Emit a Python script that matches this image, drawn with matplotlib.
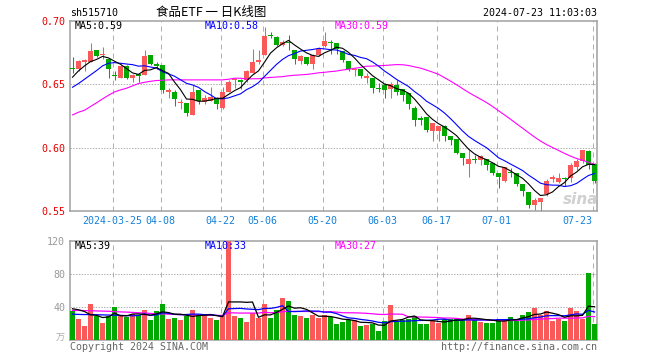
import matplotlib
matplotlib.use('Agg')
import matplotlib.pyplot as plt
import numpy as np
from matplotlib.transforms import blended_transform_factory

# ---------------- data ----------------
opens = [0.663, 0.662, 0.667, 0.667, 0.677, 0.673, 0.670, 0.657, 0.655, 0.664,
         0.655, 0.658, 0.657, 0.673, 0.666, 0.665, 0.644, 0.644, 0.635, 0.635,
         0.626, 0.645, 0.636, 0.637, 0.639, 0.631, 0.644, 0.653, 0.653, 0.653,
         0.659, 0.667, 0.673, 0.689, 0.687, 0.681, 0.683, 0.677, 0.668, 0.671,
         0.666, 0.673, 0.680, 0.683, 0.682, 0.676, 0.668, 0.661, 0.662, 0.655,
         0.655, 0.647, 0.649, 0.646, 0.649, 0.646, 0.643, 0.631, 0.623, 0.624,
         0.613, 0.613, 0.617, 0.609, 0.607, 0.596, 0.587, 0.591, 0.590, 0.591,
         0.588, 0.580, 0.574, 0.581, 0.580, 0.571, 0.565, 0.555, 0.557, 0.563,
         0.575, 0.573, 0.576, 0.576, 0.585, 0.589, 0.597, 0.587]
highs = [0.671, 0.669, 0.670, 0.682, 0.677, 0.679, 0.670, 0.660, 0.665, 0.665,
         0.658, 0.659, 0.677, 0.673, 0.667, 0.665, 0.647, 0.645, 0.638, 0.635,
         0.649, 0.645, 0.641, 0.648, 0.640, 0.648, 0.653, 0.655, 0.654, 0.661,
         0.678, 0.677, 0.695, 0.691, 0.688, 0.685, 0.689, 0.677, 0.673, 0.671,
         0.674, 0.679, 0.691, 0.685, 0.682, 0.676, 0.668, 0.663, 0.662, 0.659,
         0.655, 0.651, 0.651, 0.652, 0.653, 0.646, 0.643, 0.633, 0.625, 0.624,
         0.619, 0.617, 0.618, 0.609, 0.607, 0.596, 0.598, 0.594, 0.594, 0.591,
         0.588, 0.580, 0.585, 0.584, 0.580, 0.571, 0.565, 0.560, 0.560, 0.575,
         0.578, 0.580, 0.577, 0.588, 0.591, 0.598, 0.598, 0.588]
lows = [0.659, 0.660, 0.660, 0.667, 0.671, 0.670, 0.655, 0.653, 0.655, 0.654,
        0.652, 0.652, 0.657, 0.665, 0.662, 0.643, 0.639, 0.633, 0.630, 0.625,
        0.626, 0.634, 0.634, 0.637, 0.630, 0.630, 0.644, 0.647, 0.646, 0.652,
        0.659, 0.666, 0.673, 0.686, 0.680, 0.680, 0.677, 0.666, 0.666, 0.665,
        0.662, 0.672, 0.679, 0.674, 0.674, 0.667, 0.660, 0.656, 0.655, 0.651,
        0.643, 0.644, 0.639, 0.639, 0.641, 0.637, 0.630, 0.617, 0.618, 0.612,
        0.605, 0.605, 0.605, 0.602, 0.595, 0.586, 0.577, 0.588, 0.586, 0.582,
        0.578, 0.568, 0.573, 0.577, 0.570, 0.562, 0.552, 0.551, 0.550, 0.562,
        0.573, 0.572, 0.570, 0.573, 0.582, 0.588, 0.583, 0.572]
closes = [0.662, 0.668, 0.669, 0.676, 0.672, 0.674, 0.662, 0.656, 0.664, 0.655,
          0.657, 0.656, 0.672, 0.666, 0.664, 0.645, 0.645, 0.638, 0.636, 0.627,
          0.644, 0.637, 0.639, 0.640, 0.634, 0.644, 0.652, 0.654, 0.652, 0.660,
          0.667, 0.669, 0.688, 0.688, 0.681, 0.683, 0.682, 0.670, 0.672, 0.666,
          0.673, 0.678, 0.684, 0.682, 0.678, 0.669, 0.662, 0.662, 0.656, 0.656,
          0.647, 0.646, 0.645, 0.650, 0.644, 0.641, 0.634, 0.622, 0.622, 0.614,
          0.619, 0.617, 0.609, 0.606, 0.596, 0.592, 0.591, 0.590, 0.593, 0.586,
          0.580, 0.577, 0.585, 0.580, 0.571, 0.566, 0.555, 0.559, 0.560, 0.574,
          0.577, 0.576, 0.575, 0.586, 0.589, 0.598, 0.586, 0.574]
volumes = [34.7, 25.9, 17.4, 44.0, 28.7, 21.0, 29.5, 40.4, 28.7, 27.5,
           31.9, 30.7, 36.8, 24.6, 35.6, 44.0, 25.9, 27.1, 24.6, 29.5,
           36.8, 30.7, 29.5, 27.1, 24.6, 30.7, 119.2, 29.5, 27.1, 22.2,
           32.7, 27.1, 44.0, 27.1, 36.8, 51.3, 47.7, 30.7, 29.5, 27.1,
           30.7, 27.1, 30.7, 27.7, 19.8, 22.2, 24.6, 24.6, 17.4, 18.6,
           19.8, 11.3, 23.4, 42.8, 23.4, 24.6, 25.9, 29.5, 19.8, 19.8,
           23.4, 21.0, 25.9, 25.9, 25.9, 24.6, 30.7, 25.9, 22.2, 21.0,
           21.0, 25.9, 25.9, 28.3, 23.4, 30.7, 34.3, 39.2, 30.7, 35.6,
           23.4, 25.9, 23.4, 39.2, 35.6, 25.9, 81.6, 19.8]

# moving-average values visible at the left edge (history before the window)
ma5_head = [0.6554, 0.6604, 0.6643, 0.6677]
ma10_head = [0.6475, 0.6504, 0.6538, 0.6572, 0.6606, 0.6643, 0.6664, 0.6669, 0.6664]
ma30_head = [0.6257, 0.6278, 0.6294, 0.6323, 0.6352, 0.6383, 0.6412, 0.6438, 0.6454, 0.6467,
             0.6486, 0.6504, 0.6514, 0.6522, 0.6528, 0.6530, 0.6533, 0.6533, 0.6533, 0.6533,
             0.6533, 0.6533, 0.6533, 0.6533, 0.6533, 0.6533, 0.6538, 0.6546, 0.6546]
vma5_head = [38.0, 36.8, 34.7, 30.7]
vma10_head = [31.5, 31.2, 31.0, 31.0, 30.8, 30.6, 30.4, 30.2, 30.0]
vma30_head = [36.0, 36.0, 35.8, 35.6, 35.4, 35.2, 35.0, 34.5, 34.2, 34.0,
              33.6, 33.2, 32.8, 32.4, 32.0, 31.8, 31.5, 31.2, 31.0, 30.8,
              30.6, 30.4, 30.2, 30.0, 30.0, 30.0, 33.2, 33.0, 32.8]

tick_index = [7, 15, 25, 32, 42, 52, 61, 71, 87]
tick_labels = ['2024-03-25', '04-08', '04-22', '05-06', '05-20', '06-03', '06-17', '07-01', '07-23']
price_ticks = [0.55, 0.60, 0.65, 0.70]
price_tick_labels = ['0.55', '0.60', '0.65', '0.70']
vol_ticks = [40, 80, 120]
vol_tick_labels = ['40', '80', '120']

symbol = 'sh515710'
title = '食品ETF 一 日K线图'
timestamp = '2024-07-23 11:03:03'
price_legend = ['MA5:0.59', 'MA10:0.58', 'MA30:0.59']
vol_legend = ['MA5:39', 'MA10:33', 'MA30:27']

# ---------------- helpers ----------------
def moving_average(values, n, head):
    v = np.asarray(values, dtype=float)
    out = np.empty(len(v))
    for k in range(len(v)):
        if k < n - 1:
            out[k] = head[k]
        else:
            out[k] = v[k - n + 1:k + 1].mean()
    return out

RED = '#fa5959'
GREEN = '#00a800'
GRID = '#b0b0b0'
SPINE = '#a0a0a0'
MONO = 'DejaVu Sans Mono'
FS = 7.2

W, H = 660, 360
fig = plt.figure(figsize=(6.6, 3.6), dpi=100)
fig.patch.set_facecolor('white')

def rect(x0, y0, x1, y1):
    return [x0 / W, 1 - y1 / H, (x1 - x0) / W, (y1 - y0) / H]

ax = fig.add_axes(rect(70, 20.6, 597, 211))
axv = fig.add_axes(rect(70, 240.7, 597, 340.3))

n = len(closes)
x = np.arange(n)
o = np.array(opens); c = np.array(closes); h = np.array(highs); l = np.array(lows)
up = c >= o
cols = [RED if u else GREEN for u in up]
bw = 5 / 6
xc = x + bw / 2

# ---------------- price panel ----------------
ax.vlines(xc, l, h, colors=cols, linewidth=0.75, zorder=3)
body_bot = np.minimum(o, c)
body_h = np.maximum(np.abs(c - o), 0.0006)
ax.bar(x, body_h, bottom=body_bot, width=bw, align='edge', color=cols, linewidth=0, zorder=4)

ma5 = moving_average(closes, 5, ma5_head)
ma10 = moving_average(closes, 10, ma10_head)
ma30 = moving_average(closes, 30, ma30_head)
ax.plot(xc, ma30, color='#ff00ff', lw=0.8, zorder=5)
ax.plot(xc, ma10, color='#0000ff', lw=0.8, zorder=5)
ax.plot(xc, ma5, color='black', lw=0.8, zorder=5)

ax.set_xlim(0, n - 1 + bw)
ax.set_ylim(0.55, 0.70)
for yv in [0.60, 0.65]:
    ax.axhline(yv, color=GRID, lw=0.72, dashes=(1.4, 1.4), zorder=1)

# ---------------- volume panel ----------------
axv.bar(x, volumes, width=bw, align='edge', color=cols, linewidth=0, zorder=3)
vma5 = moving_average(volumes, 5, vma5_head)
vma10 = moving_average(volumes, 10, vma10_head)
vma30 = moving_average(volumes, 30, vma30_head)
axv.plot(xc, vma30, color='#ff00ff', lw=0.9, zorder=5)
axv.plot(xc, vma10, color='#0000ff', lw=0.9, zorder=5)
axv.plot(xc, vma5, color='black', lw=0.9, zorder=5)
axv.set_xlim(0, n - 1 + bw)
axv.set_ylim(0, 120)
for yv in [40, 80]:
    axv.axhline(yv, color=GRID, lw=0.72, dashes=(1.4, 1.4), zorder=1)

# ---------------- shared styling ----------------
for a in (ax, axv):
    for t in tick_index:
        a.axvline(t + 1 / 12, color=GRID, lw=0.72, dashes=(5, 4), zorder=1)
    for s in a.spines.values():
        s.set_color(SPINE)
        s.set_linewidth(1.1)
    a.set_xticks([])
    a.tick_params(axis='y', length=0, pad=3.5)

ax.set_yticks(price_ticks)
ax.set_yticklabels(price_tick_labels, color='#e60000', fontsize=FS, family=MONO)
axv.set_yticks(vol_ticks)
axv.set_yticklabels(vol_tick_labels, color='#999999', fontsize=FS, family=MONO)

trans = blended_transform_factory(ax.transData, ax.transAxes)
for t, lab in zip(tick_index, tick_labels):
    ha = 'right' if t == tick_index[-1] else 'center'
    xx = t + 1 / 12 + (0.02 if ha == 'right' else 0)
    ax.text(xx, -0.0525, lab, transform=trans, ha=ha, va='center',
            color='#1580d8', fontsize=FS, family=MONO)

# ---------------- texts ----------------
def ftext(px, py, s, **kw):
    fig.text(px / W, 1 - py / H, s, **kw)

ftext(70, 12.8, symbol, ha='left', va='center', fontsize=FS, family=MONO, color='black')
ftext(211, 12.5, title, ha='center', va='center', fontsize=9,
      family=['Noto Sans CJK SC', 'DejaVu Sans'], color='black')
ftext(597, 12.8, timestamp, ha='right', va='center', fontsize=FS, family=MONO, color='black')

leg_colors = ['black', '#0000ff', '#ff00ff']
leg_x = [75, 205, 335]
for s, col, px in zip(price_legend, leg_colors, leg_x):
    ftext(px, 26.3, s, ha='left', va='center', fontsize=FS, family=MONO, color=col)
for s, col, px in zip(vol_legend, leg_colors, leg_x):
    ftext(px, 246.3, s, ha='left', va='center', fontsize=FS, family=MONO, color=col)

ftext(65, 338.5, '万', ha='right', va='center', fontsize=6.5,
      family=['Noto Sans CJK SC', 'DejaVu Sans'], color='#aaaaaa')
ftext(70, 346.5, 'Copyright 2024 SINA.COM', ha='left', va='center', fontsize=FS,
      family=MONO, color='#666666')
ftext(597, 346.5, 'http://finance.sina.com.cn', ha='right', va='center', fontsize=FS,
      family=MONO, color='#666666')
ftext(581, 199, 'sina', ha='center', va='center', fontsize=11, fontstyle='italic',
      fontweight='bold', color='#d0d0d0', family='DejaVu Sans')

fig.savefig('out.png', dpi=100, facecolor='white')
